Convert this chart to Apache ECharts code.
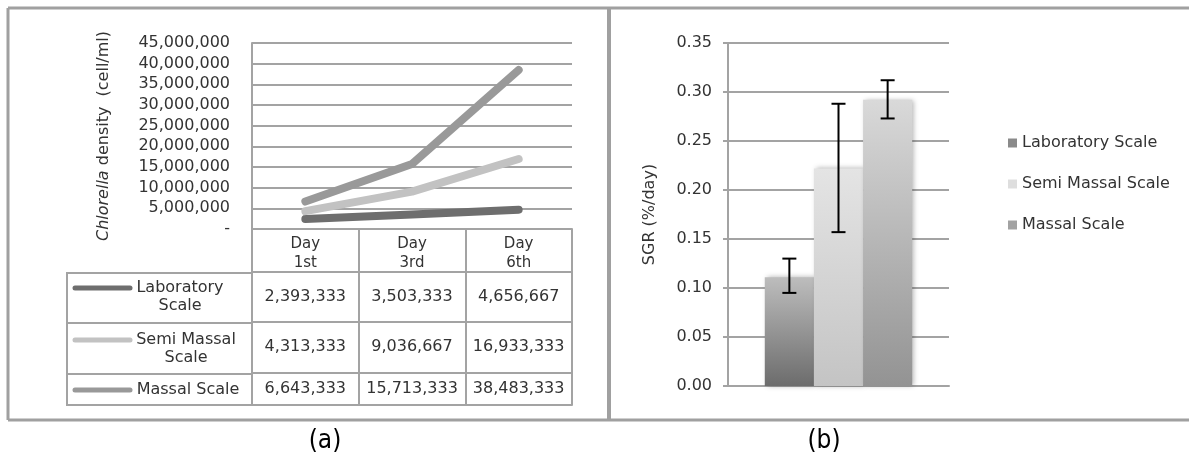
<!DOCTYPE html>
<html>
<head>
<meta charset="utf-8">
<title>Chlorella growth</title>
<script src="https://cdn.jsdelivr.net/npm/echarts@6/dist/echarts.min.js"></script>
<style>
  html, body { margin: 0; padding: 0; background: #fff; }
  #chart { width: 1189px; height: 457px; }
</style>
</head>
<body>
<div id="chart"></div>
<script>
// data (a): density per day
const days = ['Day 1st', 'Day 3rd', 'Day 6th'];
const scaleNames = ['Laboratory Scale', 'Semi Massal Scale', 'Massal Scale'];
const labDensity = [2393333, 3503333, 4656667];
const semiDensity = [4313333, 9036667, 16933333];
const massalDensity = [6643333, 15713333, 38483333];
const densityMax = 45000000;
const densityStep = 5000000;

// data (b): SGR with error bars
const sgrMean = [0.111, 0.222, 0.292];
const sgrLow = [0.095, 0.157, 0.273];
const sgrHigh = [0.130, 0.288, 0.312];
const sgrMax = 0.35;
const sgrStep = 0.05;

const densities = [labDensity, semiDensity, massalDensity];
const lineColors = ['#6e6e6e', '#c2c2c2', '#999999'];
const barTop = ['#bdbdbd', '#e4e4e4', '#d9d9d9'];
const barBottom = ['#6c6c6c', '#c4c4c4', '#939393'];
const legendColors = ['#8a8a8a', '#dedede', '#a2a2a2'];

const FONT = 'DejaVu Sans';
const GRID_COLOR = '#a3a3a3';
const TEXT_COLOR = '#333';

function commas(n) {
  return String(n).replace(/\B(?=(\d{3})+(?!\d))/g, ',');
}

let myChart = echarts.init(document.getElementById('chart'));

// table rows under plot (a) are drawn as extra category axes
const rowOffsets = [43, 93, 144];
const rowHeights = [50, 51, 32];
const rowMargins = [17, 17, 8];

let xAxes = [{
  type: 'category',
  gridIndex: 0,
  data: days,
  axisLine: { lineStyle: { color: GRID_COLOR, width: 2 } },
  axisTick: { show: true, interval: 0, length: 43, lineStyle: { color: GRID_COLOR, width: 2 } },
  axisLabel: {
    interval: 0,
    margin: 6,
    lineHeight: 19,
    fontSize: 15,
    fontFamily: FONT,
    color: TEXT_COLOR,
    formatter: function (v) { return v.replace(' ', '\n'); }
  }
}];
for (let r = 0; r < 3; r++) {
  xAxes.push({
    type: 'category',
    gridIndex: 0,
    position: 'bottom',
    offset: rowOffsets[r],
    data: days,
    axisLine: { lineStyle: { color: GRID_COLOR, width: 2 } },
    axisTick: { show: true, interval: 0, length: rowHeights[r], lineStyle: { color: GRID_COLOR, width: 2 } },
    axisLabel: {
      interval: 0,
      margin: rowMargins[r],
      lineHeight: 16,
      fontSize: 16,
      fontFamily: FONT,
      color: TEXT_COLOR,
      formatter: (function (row) {
        return function (v, i) { return commas(densities[row][i]); };
      })(r)
    }
  });
}
xAxes.push({
  type: 'category',
  gridIndex: 0,
  position: 'bottom',
  offset: 176,
  data: days,
  axisLine: { lineStyle: { color: GRID_COLOR, width: 2 } },
  axisTick: { show: false },
  axisLabel: { show: false }
});
// (b) category axis
xAxes.push({
  type: 'category',
  gridIndex: 1,
  data: [''],
  axisLine: { lineStyle: { color: GRID_COLOR, width: 2 } },
  axisTick: { show: false },
  axisLabel: { show: false }
});
const barAxis = xAxes.length - 1;

let series = [];
// lines (a)
for (let i = 0; i < 3; i++) {
  series.push({
    name: 'a ' + scaleNames[i],
    type: 'line',
    xAxisIndex: 0,
    yAxisIndex: 0,
    data: densities[i],
    symbol: 'none',
    silent: true,
    lineStyle: { width: 8, color: lineColors[i], cap: 'round', join: 'round' },
    itemStyle: { color: lineColors[i] }
  });
}
// bars (b)
for (let i = 0; i < 3; i++) {
  series.push({
    name: scaleNames[i],
    type: 'bar',
    xAxisIndex: barAxis,
    yAxisIndex: 1,
    data: [sgrMean[i]],
    barGap: '0%',
    barCategoryGap: '33.3%',
    itemStyle: {
      color: new echarts.graphic.LinearGradient(0, 0, 0, 1, [
        { offset: 0, color: barTop[i] },
        { offset: 1, color: barBottom[i] }
      ]),
      shadowBlur: 5,
      shadowOffsetX: 2,
      shadowColor: 'rgba(0,0,0,0.3)'
    }
  });
}
// error bars
series.push({
  type: 'custom',
  xAxisIndex: barAxis,
  yAxisIndex: 1,
  z: 10,
  silent: true,
  encode: { x: 0, y: [1, 2] },
  data: sgrMean.map(function (m, i) { return [0, sgrLow[i], sgrHigh[i], i]; }),
  renderItem: function (params, api) {
    let lo = api.coord([api.value(0), api.value(1)]);
    let hi = api.coord([api.value(0), api.value(2)]);
    let band = api.size([1, 0])[0];
    let barW = band * (1 - 0.333) / 3;
    let x = lo[0] + (api.value(3) - 1) * barW;
    let cap = 7;
    let st = { stroke: '#000', lineWidth: 2 };
    return {
      type: 'group',
      children: [
        { type: 'line', shape: { x1: x, y1: hi[1], x2: x, y2: lo[1] }, style: st },
        { type: 'line', shape: { x1: x - cap, y1: hi[1], x2: x + cap, y2: hi[1] }, style: st },
        { type: 'line', shape: { x1: x - cap, y1: lo[1], x2: x + cap, y2: lo[1] }, style: st }
      ]
    };
  }
});

// static frame and left part of table
const frame = { stroke: '#a0a0a0', lineWidth: 3 };
const cell = { stroke: GRID_COLOR, lineWidth: 2 };
const rowLines = [273, 323, 374, 405];
const labelCenters = [180, 186, 188];
const labelLines = [288, 340, 390];
let graphics = [
  { type: 'line', shape: { x1: 8, y1: 8, x2: 1189, y2: 8 }, style: frame },
  { type: 'line', shape: { x1: 8, y1: 8, x2: 8, y2: 420 }, style: frame },
  { type: 'line', shape: { x1: 8, y1: 420, x2: 1189, y2: 420 }, style: frame },
  { type: 'line', shape: { x1: 609, y1: 8, x2: 609, y2: 420 }, style: { stroke: '#a0a0a0', lineWidth: 4 } },
  { type: 'line', shape: { x1: 67, y1: 272, x2: 67, y2: 406 }, style: cell }
];
rowLines.forEach(function (y) {
  graphics.push({ type: 'line', shape: { x1: 66, y1: y, x2: 253, y2: y }, style: cell });
});
for (let i = 0; i < 3; i++) {
  graphics.push({
    type: 'line',
    shape: { x1: 75, y1: labelLines[i], x2: 130, y2: labelLines[i] },
    style: { stroke: lineColors[i], lineWidth: 5, lineCap: 'round' }
  });
  let txt = i === 2 ? scaleNames[i] : scaleNames[i].replace(/ Scale$/, '\nScale');
  graphics.push({
    type: 'text',
    x: labelCenters[i],
    y: labelLines[i] - 9,
    style: {
      text: txt,
      font: '16px "' + FONT + '"',
      fill: TEXT_COLOR,
      align: 'center',
      verticalAlign: 'top',
      lineHeight: 18
    }
  });
}
graphics.push({
  type: 'text', x: 325, y: 441,
  style: { text: '(a)', font: '26px "Liberation Sans Narrow", "DejaVu Sans Condensed"', fill: '#000', align: 'center', verticalAlign: 'middle' }
});
graphics.push({
  type: 'text', x: 824, y: 441,
  style: { text: '(b)', font: '26px "Liberation Sans Narrow", "DejaVu Sans Condensed"', fill: '#000', align: 'center', verticalAlign: 'middle' }
});

let option = {
  animation: false,
  backgroundColor: '#fff',
  textStyle: { fontFamily: FONT },
  grid: [
    { left: 252, top: 43, width: 320, height: 186 },
    { left: 728, top: 43, width: 221, height: 343 }
  ],
  legend: {
    orient: 'vertical',
    left: 1003,
    top: 130,
    itemWidth: 9,
    itemHeight: 9,
    itemGap: 25,
    icon: 'rect',
    textStyle: { fontSize: 16, color: TEXT_COLOR, fontFamily: FONT },
    data: scaleNames.map(function (n, i) { return { name: n, itemStyle: { color: legendColors[i] } }; })
  },
  xAxis: xAxes,
  yAxis: [{
    type: 'value',
    gridIndex: 0,
    min: 0,
    max: densityMax,
    interval: densityStep,
    axisLine: { show: true, lineStyle: { color: GRID_COLOR, width: 2 } },
    axisTick: { show: false },
    splitLine: { lineStyle: { color: GRID_COLOR, width: 2 } },
    axisLabel: {
      margin: 22,
      fontSize: 16,
      fontFamily: FONT,
      color: TEXT_COLOR,
      formatter: function (v) { return v === 0 ? '-' : commas(v); }
    },
    name: '{i|Chlorella} density  (cell/ml)',
    nameLocation: 'middle',
    nameRotate: 90,
    nameGap: 140,
    nameTextStyle: {
      fontSize: 16,
      fontFamily: FONT,
      color: TEXT_COLOR,
      rich: { i: { fontStyle: 'italic', fontSize: 16, fontFamily: FONT, color: TEXT_COLOR } }
    }
  }, {
    type: 'value',
    gridIndex: 1,
    min: 0,
    max: sgrMax,
    interval: sgrStep,
    axisLine: { show: true, lineStyle: { color: GRID_COLOR, width: 2 } },
    axisTick: { show: true, length: 5, lineStyle: { color: GRID_COLOR, width: 2 } },
    splitLine: { lineStyle: { color: GRID_COLOR, width: 2 } },
    axisLabel: {
      margin: 16,
      fontSize: 16,
      fontFamily: FONT,
      color: TEXT_COLOR,
      formatter: function (v) { return v.toFixed(2); }
    },
    name: 'SGR (%/day)',
    nameLocation: 'middle',
    nameRotate: 90,
    nameGap: 70,
    nameTextStyle: { fontSize: 16, fontFamily: FONT, color: TEXT_COLOR }
  }],
  series: series,
  graphic: graphics
};
myChart.setOption(option);
</script>
</body>
</html>
